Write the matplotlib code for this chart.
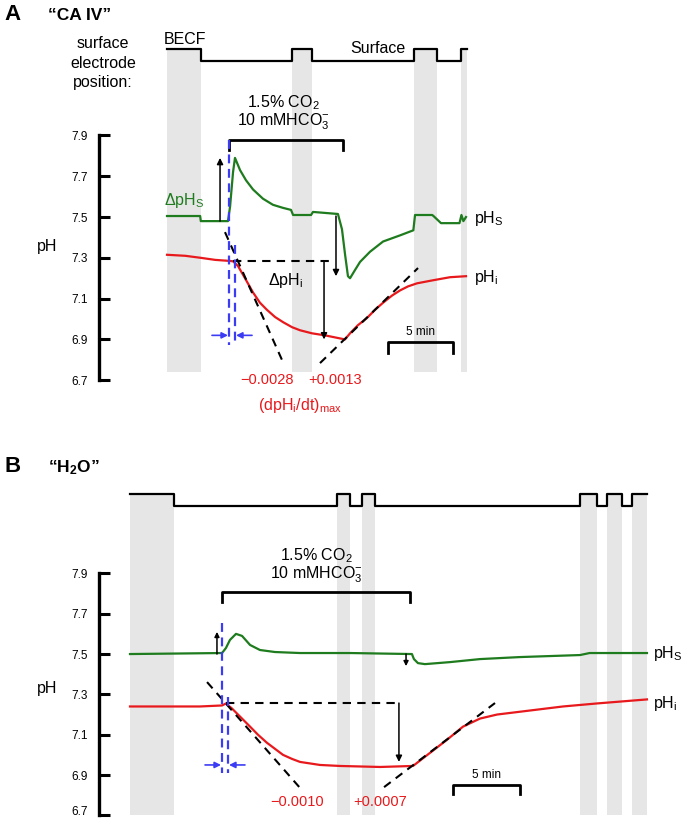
import numpy as np
import matplotlib.pyplot as plt
import matplotlib.transforms as mtransforms

plt.rcParams['font.family'] = ['Liberation Sans', 'DejaVu Sans']
plt.rcParams['mathtext.fontset'] = 'custom'
plt.rcParams['mathtext.rm'] = 'Liberation Sans'
plt.rcParams['mathtext.it'] = 'Liberation Sans:italic'
plt.rcParams['mathtext.bf'] = 'Liberation Sans:bold'

GREEN = '#1e7b1e'
RED = '#e8191c'
BLUE = '#3c3cf5'
GRAY = '#e6e6e6'

# ---------------- panel A: "CA IV" (time in min, pH) ----------------
# electrode position, 1 = BECF, 0 = surface
a_pos_t = [0, 2.6, 9.6, 11.15, 19.0, 20.77, 22.6, 23.1]
a_pos = [1, 0, 1, 0, 1, 0, 1, 1]

a_phs_t = [0, 2.55, 2.6, 4.69, 4.85, 5.08, 5.23, 5.62, 6.08, 6.62, 7.38, 8.15,
           8.92, 9.54, 9.7, 11.08, 11.23, 13.15, 13.46, 13.69, 13.92, 14.08,
           14.46, 14.85, 15.62, 16.62, 17.92, 18.95, 19.08, 20.4, 20.5, 21.08,
           22.5, 22.65, 22.8, 23.0]
a_phs = [7.505, 7.505, 7.48, 7.48, 7.55, 7.72, 7.79, 7.73, 7.68, 7.635, 7.59, 7.56,
         7.545, 7.535, 7.51, 7.51, 7.525, 7.515, 7.44, 7.32, 7.21, 7.20,
         7.24, 7.28, 7.33, 7.38, 7.41, 7.435, 7.51, 7.51, 7.505, 7.47,
         7.47, 7.51, 7.48, 7.50]

a_phi_t = [0, 1.4, 2.6, 3.7, 4.8, 5.08, 5.46, 6.0, 6.62, 7.15, 7.69, 8.31, 8.92,
           9.62, 10.23, 11.15, 12.15, 13.31, 13.69, 14.08, 14.69, 15.38, 16.0,
           16.62, 17.31, 17.92, 18.54, 19.23, 20.46, 21.77, 23.0]
a_phi = [7.315, 7.31, 7.30, 7.29, 7.285, 7.283, 7.26, 7.20, 7.13, 7.08, 7.045, 7.01,
         6.985, 6.96, 6.945, 6.93, 6.92, 6.905, 6.90, 6.93, 6.97, 7.005, 7.045,
         7.08, 7.115, 7.14, 7.16, 7.175, 7.19, 7.205, 7.21]

a_co2 = (4.77, 13.54)
a_rates = ['\u22120.0028', '+0.0013']

# ---------------- panel B: "H2O" ----------------
b_pos_t = [0, 3.28, 15.45, 16.42, 17.31, 18.28, 33.58, 34.85, 35.6, 36.72, 37.46, 38.58]
b_pos = [1, 0, 1, 0, 1, 0, 1, 0, 1, 0, 1, 1]

b_phs_t = [0, 6.87, 7.16, 7.46, 7.91, 8.36, 8.96, 9.7, 10.82, 12.69, 16.42,
           21.04, 21.19, 21.49, 22.01, 23.88, 26.12, 29.1, 33.58, 34.3, 38.58]
b_phs = [7.50, 7.505, 7.53, 7.57, 7.60, 7.59, 7.545, 7.52, 7.51, 7.505, 7.505,
         7.50, 7.475, 7.455, 7.45, 7.46, 7.475, 7.485, 7.495, 7.505, 7.505]

b_phi_t = [0, 5.22, 6.87, 7.16, 7.61, 8.21, 8.96, 9.55, 10.22, 10.82, 11.42,
           12.09, 12.69, 14.18, 15.67, 18.66, 21.12, 22.39, 23.66, 24.85, 26.12,
           27.39, 29.85, 32.31, 34.85, 38.58]
b_phi = [7.24, 7.24, 7.245, 7.255, 7.23, 7.19, 7.14, 7.10, 7.06, 7.03, 7.0,
         6.98, 6.965, 6.95, 6.945, 6.94, 6.945, 7.01, 7.075, 7.14, 7.18,
         7.20, 7.22, 7.24, 7.255, 7.275]

b_co2 = (6.87, 20.9)
b_rates = ['\u22120.0010', '+0.0007']

W, H = 681, 819
fig = plt.figure(figsize=(W / 100, H / 100), dpi=100)


def fx(x):
    return x / W


def fy(y):
    return 1 - y / H


def setup(ax, xlim, ylim):
    ax.set_xlim(*xlim)
    ax.set_ylim(*ylim)
    ax.patch.set_visible(False)
    for s in ['top', 'right', 'bottom']:
        ax.spines[s].set_visible(False)
    ax.spines['left'].set_bounds(6.7, 7.9)
    ax.spines['left'].set_linewidth(2.4)
    ax.spines['left'].set_capstyle('projecting')
    ticks = [6.7, 6.9, 7.1, 7.3, 7.5, 7.7, 7.9]
    ax.set_yticks(ticks)
    ax.set_yticklabels(['%.1f' % v for v in ticks])
    ax.tick_params(axis='y', direction='in', length=8, width=2.2, labelsize=8.5, pad=8)
    ax.set_xticks([])


def electrode(ax, t, pos, lo, step, band_bottom):
    lev = [lo + p * step for p in pos]
    ax.step(t, lev, where='post', color='k', lw=1.6, zorder=2)
    for i in range(len(t) - 1):
        if pos[i] == 1:
            ax.fill_between([t[i], t[i + 1]], band_bottom, lo + step,
                            color=GRAY, lw=0, zorder=0)


def arrow(ax, x0, y0, x1, y1, color='k', ms=9, lw=1.1):
    ax.annotate('', xy=(x1, y1), xytext=(x0, y0),
                arrowprops=dict(arrowstyle='-|>', color=color, lw=lw,
                                mutation_scale=ms, shrinkA=0, shrinkB=0), zorder=5)


def dashed(ax, xs, ys, color='k', lw=1.5, dashes=(4, 3)):
    ax.plot(xs, ys, color=color, lw=lw, dashes=dashes, zorder=4)


fs = 11.5

# ================= panel A =================
axA = fig.add_axes([fx(99), fy(430), fx(681 - 99), 430 / H])
setup(axA, (-5.231, 39.54), (6.456, 8.564))
electrode(axA, a_pos_t, a_pos, 8.265, 0.059, 6.74)
axA.plot(a_phs_t, a_phs, color=GREEN, lw=1.6, zorder=3)
axA.plot(a_phi_t, a_phi, color=RED, lw=1.6, zorder=3)

# CO2 bracket
axA.plot([a_co2[0], a_co2[0], a_co2[1], a_co2[1]], [7.828, 7.877, 7.877, 7.828],
         color='k', lw=2, zorder=3)
axA.text(8.92, 8.06, '1.5% CO$_2$', ha='center', va='center', fontsize=fs)
axA.text(8.92, 7.966, '10 mMHCO$_3^{-}$', ha='center', va='center', fontsize=fs)

# tangents and baseline
dashed(axA, [4.46, 8.92], [7.426, 6.789])
dashed(axA, [11.77, 19.31], [6.784, 7.25])
dashed(axA, [5.08, 12.77], [7.285, 7.285])

# arrows
arrow(axA, 4.08, 7.48, 4.08, 7.79)
arrow(axA, 13.0, 7.505, 13.0, 7.21)
arrow(axA, 12.08, 7.285, 12.08, 6.90)

# blue timing marks
dashed(axA, [4.77, 4.77], [7.877, 6.873], color=BLUE, lw=1.6, dashes=(4, 2.5))
dashed(axA, [5.23, 5.23], [7.363, 6.873], color=BLUE, lw=1.6, dashes=(4, 2.5))
arrow(axA, 3.46, 6.92, 4.69, 6.92, color=BLUE, ms=9, lw=1.2)
arrow(axA, 6.54, 6.92, 5.31, 6.92, color=BLUE, ms=9, lw=1.2)

# scale bar
axA.plot([17.0, 17.0, 22.0, 22.0], [6.833, 6.887, 6.887, 6.833], color='k', lw=2, zorder=3)
axA.text(19.5, 6.935, '5 min', ha='center', va='center', fontsize=8.5)

axA.text(1.38, 8.368, 'BECF', ha='center', va='center', fontsize=fs)
axA.text(16.2, 8.328, 'Surface', ha='center', va='center', fontsize=fs)
axA.text(1.3, 7.583, '\u0394pH$_\\mathrm{S}$', ha='center', va='center', fontsize=fs, color=GREEN)
axA.text(9.15, 7.19, '\u0394pH$_\\mathrm{i}$', ha='center', va='center', fontsize=fs)
axA.text(23.6, 7.495, 'pH$_\\mathrm{S}$', ha='left', va='center', fontsize=fs)
axA.text(23.6, 7.206, 'pH$_\\mathrm{i}$', ha='left', va='center', fontsize=fs)
axA.text(7.69, 6.70, a_rates[0], ha='center', va='center', fontsize=10.5, color=RED)
axA.text(12.92, 6.70, a_rates[1], ha='center', va='center', fontsize=10.5, color=RED)
axA.text(10.23, 6.574, '(dpH$_\\mathrm{i}$/dt)$_\\mathrm{max}$', ha='center', va='center',
         fontsize=fs, color=RED)

# ================= panel B =================
axB = fig.add_axes([fx(99), 0, fx(681 - 99), (H - 430) / H])
setup(axB, (-2.313, 41.12), (6.682, 8.611))
electrode(axB, b_pos_t, b_pos, 8.234, 0.059, 6.70)
axB.plot(b_phs_t, b_phs, color=GREEN, lw=1.6, zorder=3)
axB.plot(b_phi_t, b_phi, color=RED, lw=1.6, zorder=3)

axB.plot([b_co2[0], b_co2[0], b_co2[1], b_co2[1]], [7.758, 7.807, 7.807, 7.758],
         color='k', lw=2, zorder=3)
axB.text(13.88, 7.99, '1.5% CO$_2$', ha='center', va='center', fontsize=fs)
axB.text(13.88, 7.895, '10 mMHCO$_3^{-}$', ha='center', va='center', fontsize=fs)

dashed(axB, [5.75, 12.69], [7.361, 6.836])
dashed(axB, [18.96, 27.24], [6.84, 7.257])
dashed(axB, [7.16, 19.93], [7.257, 7.257])

arrow(axB, 6.49, 7.5, 6.49, 7.61, ms=7)
arrow(axB, 20.6, 7.5, 20.6, 7.44, ms=7)
arrow(axB, 20.07, 7.257, 20.07, 6.965)

dashed(axB, [6.87, 6.87], [7.654, 6.91], color=BLUE, lw=1.6, dashes=(4, 2.5))
dashed(axB, [7.31, 7.31], [7.287, 6.91], color=BLUE, lw=1.6, dashes=(4, 2.5))
arrow(axB, 5.6, 6.95, 6.79, 6.95, color=BLUE, ms=9, lw=1.2)
arrow(axB, 8.58, 6.95, 7.39, 6.95, color=BLUE, ms=9, lw=1.2)

axB.plot([24.1, 24.1, 29.1, 29.1], [6.806, 6.85, 6.85, 6.806], color='k', lw=2, zorder=3)
axB.text(26.6, 6.90, '5 min', ha='center', va='center', fontsize=8.5)

axB.text(39.0, 7.505, 'pH$_\\mathrm{S}$', ha='left', va='center', fontsize=fs)
axB.text(39.0, 7.257, 'pH$_\\mathrm{i}$', ha='left', va='center', fontsize=fs)
axB.text(12.46, 6.766, b_rates[0], ha='center', va='center', fontsize=10.5, color=RED)
axB.text(18.66, 6.766, b_rates[1], ha='center', va='center', fontsize=10.5, color=RED)

# lift the bottom tick label of B so it stays inside the figure
lab = axB.get_yticklabels()[0]
lab.set_transform(lab.get_transform() +
                  mtransforms.ScaledTranslation(0, 3.5 / 72, fig.dpi_scale_trans))

# ================= figure labels =================
fig.text(fx(4), fy(14), 'A', fontsize=16, fontweight='bold', va='center')
fig.text(fx(48), fy(15), '\u201cCA IV\u201d', fontsize=12.5, fontweight='bold', va='center')
fig.text(fx(103), fy(43), 'surface', ha='center', va='center', fontsize=fs)
fig.text(fx(103), fy(63), 'electrode', ha='center', va='center', fontsize=fs)
fig.text(fx(103), fy(83), 'position:', ha='center', va='center', fontsize=fs)
fig.text(fx(47), fy(247), 'pH', ha='center', va='center', fontsize=fs)

fig.text(fx(4), fy(467), 'B', fontsize=16, fontweight='bold', va='center')
fig.text(fx(48), fy(468), '\u201cH$_\\mathbf{2}$O\u201d', fontsize=12.5, fontweight='bold', va='center')
fig.text(fx(47), fy(688), 'pH', ha='center', va='center', fontsize=fs)

fig.savefig('out.png', dpi=100)
